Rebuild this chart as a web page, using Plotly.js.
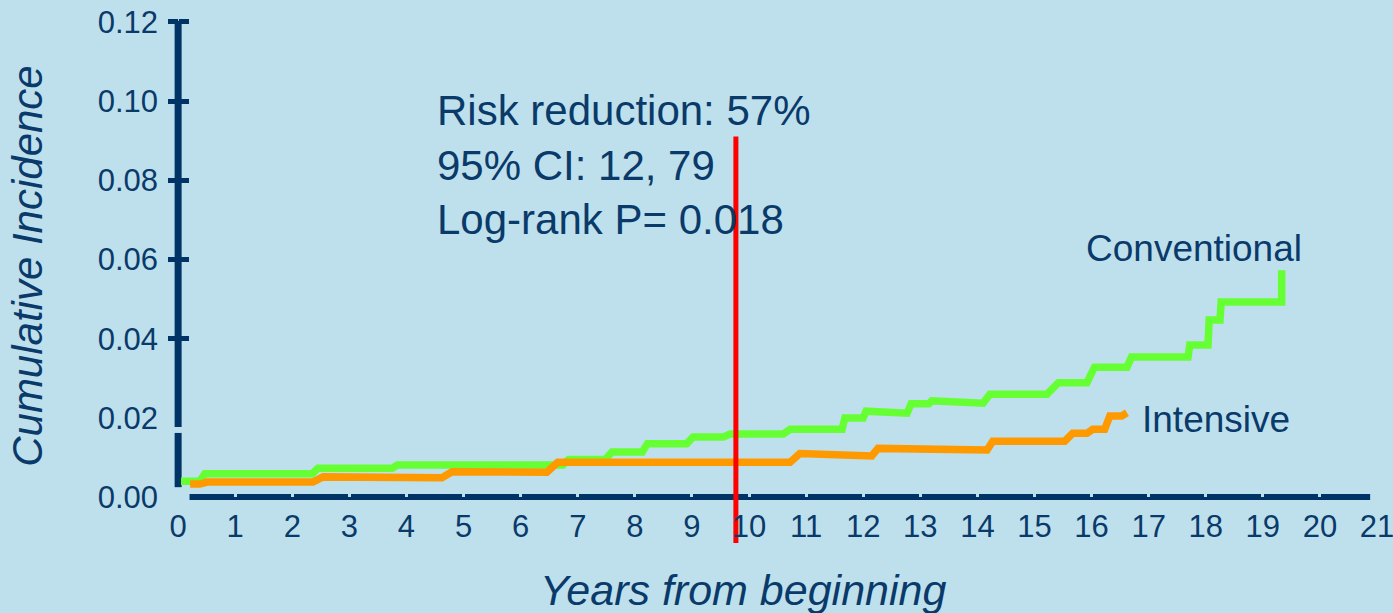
<!DOCTYPE html>
<html>
<head>
<meta charset="utf-8">
<script src="https://cdn.plot.ly/plotly-3.0.1.min.js"></script>
<style>
  html, body { margin: 0; padding: 0; background: #BEE0EC; }
  #chart { width: 1393px; height: 613px; }
</style>
</head>
<body>
<div id="chart"></div>
<script>
// ---- Data ----
const conventionalYears = [0.05, 0.38, 0.47, 2.35, 2.45, 3.75, 3.84, 6.74, 6.84, 7.48, 7.60, 8.13, 8.22, 8.91, 9.02, 9.55, 9.67, 10.60, 10.72, 11.63, 11.68, 12.00, 12.05, 12.77, 12.84, 13.15, 13.20, 14.10, 14.22, 15.22, 15.42, 15.92, 16.05, 16.62, 16.70, 17.69, 17.72, 18.04, 18.06, 18.25, 18.27, 19.33, 19.33];
const conventionalIncidence = [0.0040, 0.0040, 0.0059, 0.0059, 0.0073, 0.0073, 0.0081, 0.0081, 0.0095, 0.0095, 0.0114, 0.0114, 0.0135, 0.0135, 0.0152, 0.0152, 0.0159, 0.0159, 0.0171, 0.0171, 0.0200, 0.0200, 0.0217, 0.0212, 0.0236, 0.0236, 0.0243, 0.0237, 0.0260, 0.0260, 0.0289, 0.0289, 0.0328, 0.0328, 0.0354, 0.0354, 0.0384, 0.0384, 0.0447, 0.0447, 0.0493, 0.0493, 0.0573];

const intensiveYears = [0.21, 0.38, 0.51, 2.36, 2.54, 4.62, 4.80, 6.46, 6.65, 10.72, 10.89, 12.15, 12.26, 14.17, 14.27, 15.53, 15.67, 15.92, 16.02, 16.23, 16.32, 16.53, 16.62];
const intensiveIncidence = [0.0033, 0.0033, 0.0038, 0.0038, 0.0051, 0.0049, 0.0064, 0.0063, 0.0088, 0.0088, 0.0110, 0.0104, 0.0123, 0.0119, 0.0141, 0.0141, 0.0161, 0.0161, 0.0171, 0.0171, 0.0205, 0.0205, 0.0213];

const markerYears = [9.77, 9.77];
const markerLevels = [0.0911, -0.0116];

const xTickValues = [0,1,2,3,4,5,6,7,8,9,10,11,12,13,14,15,16,17,18,19,20,21];
const xTickLabels = ['0','1','2','3','4','5','6','7','8','9','10','11','12','13','14','15','16','17','18','19','20','21'];
const yLabelValues = [0, 0.02, 0.04, 0.06, 0.08, 0.10, 0.12];
const yLabelTexts = ['0.00', '0.02', '0.04', '0.06', '0.08', '0.10', '0.12'];
const yTickMarkValues = [0.04, 0.06, 0.08, 0.10, 0.12];

const statsText = 'Risk reduction: 57%<br>95% CI: 12, 79<br>Log-rank P= 0.018';
const seriesNames = ['Conventional', 'Intensive'];

// ---- Styling ----
const BG = '#BEE0EC';
const NAVY = '#003366';
const TEXT = '#0A3A6A';
const FONT = '"Liberation Sans", Arial, sans-serif';
const xRange = [-0.3, 21];
const yRange = [-0.0116, 0.1205];
const xAxisPos = (0 - yRange[0]) / (yRange[1] - yRange[0]);
const yAxisPos = (0 - xRange[0]) / (xRange[1] - xRange[0]);

const traces = [
  { x: conventionalYears, y: conventionalIncidence, type: 'scatter', mode: 'lines', name: seriesNames[0],
    line: { color: '#66FF33', width: 7.5, shape: 'linear' }, hoverinfo: 'skip' },
  { x: intensiveYears, y: intensiveIncidence, type: 'scatter', mode: 'lines', name: seriesNames[1],
    line: { color: '#FF9900', width: 7.5, shape: 'linear' }, hoverinfo: 'skip' },
  { x: markerYears, y: markerLevels, type: 'scatter', mode: 'lines', name: 'marker',
    line: { color: '#FF0000', width: 5 }, hoverinfo: 'skip' },
  { x: [], y: [], yaxis: 'y2', type: 'scatter', showlegend: false },
  { x: [], y: [], yaxis: 'y3', type: 'scatter', showlegend: false }
];

const tickAxisCommon = {
  range: yRange, overlaying: 'y', anchor: 'free', position: yAxisPos, side: 'left',
  tickmode: 'array', tickvals: yTickMarkValues, showticklabels: false,
  ticklen: 10, tickwidth: 5, tickcolor: NAVY,
  showgrid: false, zeroline: false, showline: false, fixedrange: true
};

const layout = {
  width: 1393, height: 613,
  paper_bgcolor: BG, plot_bgcolor: BG,
  margin: { l: 161, r: 16, t: 20, b: 70 },
  showlegend: false,
  font: { family: FONT, color: TEXT },
  xaxis: {
    range: xRange, anchor: 'free', position: xAxisPos,
    tickmode: 'array', tickvals: xTickValues, ticktext: xTickLabels,
    ticks: 'inside', ticklen: 4, tickwidth: 3, tickcolor: BG,
    tickfont: { size: 31, color: TEXT, family: FONT },
    ticklabelstandoff: 8, ticklabeloverflow: 'allow',
    showgrid: false, zeroline: false, showline: false, fixedrange: true
  },
  yaxis: {
    range: yRange,
    tickmode: 'array', tickvals: yLabelValues, ticktext: yLabelTexts,
    ticks: '', tickfont: { size: 31, color: TEXT, family: FONT },
    ticklabelstandoff: 2,
    showgrid: false, zeroline: false, showline: false, fixedrange: true
  },
  yaxis2: Object.assign({}, tickAxisCommon, { ticks: 'outside' }),
  yaxis3: Object.assign({}, tickAxisCommon, { ticks: 'inside' }),
  shapes: [
    // x axis line
    { type: 'line', xref: 'x', yref: 'y', x0: 0.2, x1: 20.88, y0: 0, y1: 0, layer: 'below',
      line: { color: NAVY, width: 6 } },
    // y axis line (broken near 0.02)
    { type: 'line', xref: 'x', yref: 'y', x0: 0, x1: 0, y0: 0.0025, y1: 0.0162, layer: 'below',
      line: { color: NAVY, width: 7 } },
    { type: 'line', xref: 'x', yref: 'y', x0: 0, x1: 0, y0: 0.0177, y1: 0.1203, layer: 'below',
      line: { color: NAVY, width: 7 } }
  ],
  annotations: [
    { text: statsText, xref: 'x', yref: 'y', x: 4.50, y: 0.0838, xanchor: 'left', yanchor: 'middle',
      align: 'left', showarrow: false, font: { size: 42, color: TEXT, family: FONT } },
    { text: seriesNames[0], xref: 'x', yref: 'y', x: 15.86, y: 0.0629, xanchor: 'left', yanchor: 'middle',
      showarrow: false, font: { size: 37, color: TEXT, family: FONT } },
    { text: seriesNames[1], xref: 'x', yref: 'y', x: 16.85, y: 0.0195, xanchor: 'left', yanchor: 'middle',
      showarrow: false, font: { size: 37, color: TEXT, family: FONT } },
    { text: '<i>Years from beginning</i>', xref: 'paper', yref: 'paper', x: (743 - 161) / 1216, y: 0,
      yshift: -47, xanchor: 'center', yanchor: 'middle', showarrow: false,
      font: { size: 43, color: TEXT, family: FONT } },
    { text: '<i>Cumulative Incidence</i>', xref: 'paper', yref: 'paper', x: 0, xshift: -133, y: 0.53,
      xanchor: 'center', yanchor: 'middle', textangle: -90, showarrow: false,
      font: { size: 42, color: TEXT, family: FONT } }
  ]
};

Plotly.newPlot('chart', traces, layout, { staticPlot: true, displayModeBar: false });
</script>
</body>
</html>
